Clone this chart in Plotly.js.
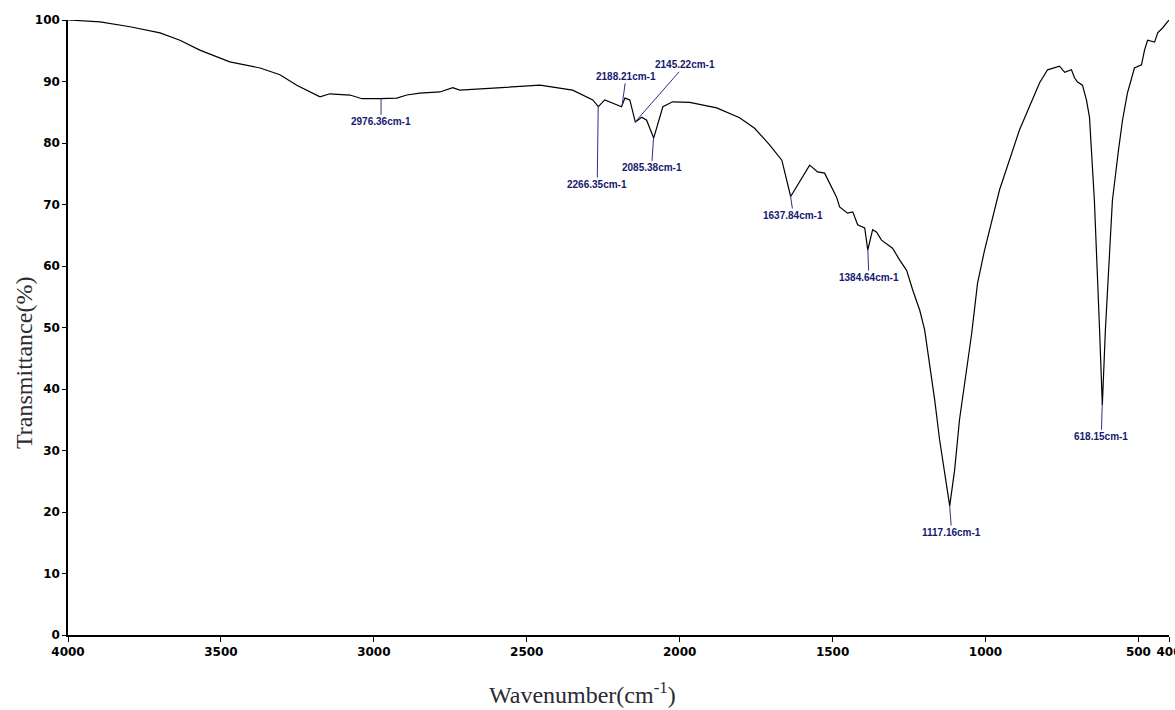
<!DOCTYPE html>
<html>
<head>
<meta charset="utf-8">
<script src="https://cdn.plot.ly/plotly-3.0.1.min.js"></script>
<style>html,body{margin:0;padding:0;background:#fff;}#chart{width:1175px;height:710px;}</style>
</head>
<body>
<div id="chart"></div>
<script>
// Wavenumber (cm-1), descending
var wavenumber = [4000,3895,3797,3699,3634,3569,3471,3372,3307,3252,3176,3144,3078,3039,2980,2925,2892,2850,2784,2742,2719,2653,2550,2457,2350,2284,2266,2245,2190,2179,2163,2145,2124,2108,2085,2055,2023,1967,1879,1804,1755,1706,1666,1637,1575,1549,1526,1487,1477,1451,1434,1418,1395,1385,1369,1356,1340,1304,1281,1258,1238,1215,1199,1189,1166,1150,1134,1117,1101,1085,1045,1026,1003,954,889,823,797,774,758,741,719,709,699,683,670,660,644,627,618,608,595,585,565,552,536,513,490,480,470,447,437,421,405,400];
// Transmittance (%)
var transmittance = [100,99.7,98.9,97.9,96.7,95.1,93.2,92.2,91.1,89.4,87.5,88.0,87.8,87.2,87.2,87.3,87.8,88.1,88.3,89.0,88.6,88.8,89.0,89.4,88.6,87.0,85.9,87.0,85.9,87.3,87.0,83.4,84.2,83.7,80.8,85.9,86.7,86.6,85.7,84.1,82.4,79.7,77.2,71.3,76.4,75.3,75.1,71.2,69.6,68.6,68.8,66.7,66.2,62.6,65.9,65.5,64.2,62.9,61.0,59.3,56.1,52.8,49.6,46.3,38.2,31.7,26.8,21.0,26.8,35.0,49.1,57.2,62.6,72.4,82.1,89.8,91.9,92.2,92.5,91.5,91.9,90.6,89.9,89.4,87.0,84.2,70.7,49.6,37.4,49.6,62.6,70.7,78.9,83.7,88.1,92.2,92.7,95.1,96.7,96.4,97.9,98.7,99.7,100];
// Peak labels
var peakPos = [2976.36,2266.35,2188.21,2145.22,2085.38,1637.84,1384.64,1117.16,618.15];
var peakText = ["2976.36cm-1","2266.35cm-1","2188.21cm-1","2145.22cm-1","2085.38cm-1","1637.84cm-1","1384.64cm-1","1117.16cm-1","618.15cm-1"];
var labelDx = [0,-1,4,50,-2,3,1,2,-1];
var labelDy = [23,78,-29,-57,30,20,28,27,33];
var xTicks = [4000,3500,3000,2500,2000,1500,1000,500,400];

function interp(x){
  for (var i=0;i<wavenumber.length-1;i++){
    var a=wavenumber[i], b=wavenumber[i+1];
    if (x<=a && x>=b){
      var t=(a-x)/(a-b);
      return transmittance[i]+t*(transmittance[i+1]-transmittance[i]);
    }
  }
  return transmittance[transmittance.length-1];
}

var annotations = peakPos.map(function(p,i){
  return {x:p, y:interp(p), xref:'x', yref:'y', text:peakText[i], showarrow:true,
    arrowhead:0, arrowwidth:1, arrowcolor:'#2b2f86', ax:labelDx[i], ay:labelDy[i], standoff:0,
    font:{family:'Liberation Sans, Arial, sans-serif', size:10, color:'#15196e', weight:'bold'}};
});
annotations.push({xref:'paper', yref:'paper', x:(24-68)/1101, y:(635-363)/615, text:'Transmittance(%)',
  textangle:-90, showarrow:false, xanchor:'center', yanchor:'middle',
  font:{family:'Liberation Serif, Times New Roman, serif', size:24, color:'#2b2b33'}});
annotations.push({xref:'paper', yref:'paper', x:(582-68)/1101, y:(635-693)/615, text:'Wavenumber(cm<sup>-1</sup>)',
  showarrow:false, xanchor:'center', yanchor:'middle',
  font:{family:'Liberation Serif, Times New Roman, serif', size:24, color:'#2b2b33'}});

var tickFont = {family:'DejaVu Sans, sans-serif', size:12, color:'#000', weight:'bold'};

Plotly.newPlot('chart', [{
  x: wavenumber, y: transmittance, type:'scatter', mode:'lines',
  line:{color:'#000', width:1.2}, hoverinfo:'x+y'
}], {
  width:1175, height:710,
  margin:{l:68, r:6, t:20, b:75},
  paper_bgcolor:'#fff', plot_bgcolor:'#fff',
  showlegend:false,
  xaxis:{range:[4000,400], tickvals:xTicks, ticktext:xTicks.map(String), ticks:'outside', ticklen:5,
    tickcolor:'#000', showline:true, linecolor:'#000', linewidth:1.5, showgrid:false, zeroline:false,
    tickfont:tickFont, ticklabeloverflow:'allow'},
  yaxis:{range:[0,100], dtick:10, ticks:'outside', ticklen:4, tickcolor:'#000', showline:true,
    linecolor:'#000', linewidth:1.5, showgrid:false, zeroline:false, tickfont:tickFont,
    ticklabeloverflow:'allow'},
  annotations: annotations
}, {displayModeBar:false});
</script>
</body>
</html>
